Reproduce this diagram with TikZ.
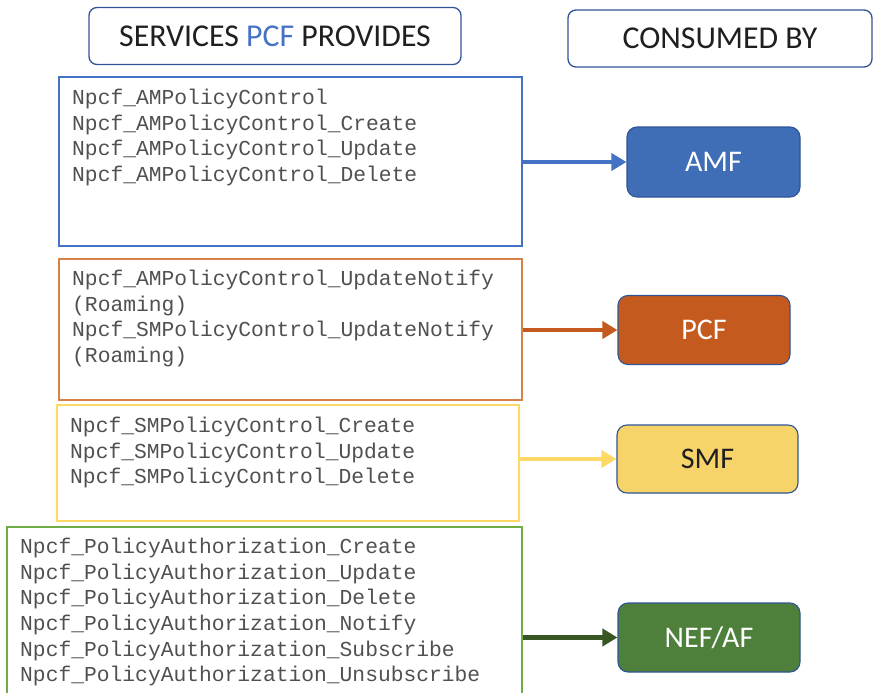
\documentclass[tikz,border=0pt]{standalone}
\usepackage{fontspec}
\setmainfont{Carlito}
\newfontfamily\codefont{Liberation Mono}
\usetikzlibrary{arrows.meta}

\definecolor{hdrblue}{HTML}{2F5597}
\definecolor{pcfblue}{HTML}{4472C4}
\definecolor{amfblue}{HTML}{3F6DB6}
\definecolor{pcforange}{HTML}{C55A1E}
\definecolor{boxorange}{HTML}{D9814A}
\definecolor{smfyellow}{HTML}{F7D46A}
\definecolor{boxyellow}{HTML}{FFD966}
\definecolor{nefgreen}{HTML}{4E7F3B}
\definecolor{boxgreen}{HTML}{70AD47}
\definecolor{arrgreen}{HTML}{375623}
\definecolor{codegray}{HTML}{505050}

\tikzset{
    header/.style={draw=hdrblue, line width=1.3pt, rounded corners=8pt,
        font=\fontsize{31.8}{36}\selectfont, text=black!88},
    svcbox/.style={draw=#1, line width=1.2pt, inner sep=0pt},
    svctext/.style={anchor=north west, inner sep=0pt, align=left,
        font=\codefont\fontsize{21.3}{25.6}\selectfont, text=codegray},
    nfbox/.style={draw=hdrblue, line width=1.1pt, fill=#1, rounded corners=10pt,
        font=\fontsize{30}{34}\selectfont, text=white},
    flow/.style={line width=4.5pt, draw=#1, -{Triangle[length=15pt, width=17pt]}}
}

\begin{document}
\begin{tikzpicture}[x=1pt, y=-1pt]
    \useasboundingbox (0, 0) rectangle (873, 693);

    \node[header, minimum width=372pt, minimum height=57pt] (provides) at (275, 36)
        {SERVICES \textcolor{pcfblue}{PCF} PROVIDES};
    \node[header, minimum width=304pt, minimum height=57pt] (consumed) at (720, 38.5)
        {CONSUMED BY};

    \node[svcbox=pcfblue, minimum width=463pt, minimum height=169pt] (amBox) at (290.5, 161.5) {};
    \node[svcbox=boxorange, minimum width=463pt, minimum height=141pt] (roamBox) at (290.5, 329.5) {};
    \node[svcbox=boxyellow, minimum width=462pt, minimum height=116pt] (smBox) at (288, 463) {};
    \node[svcbox=boxgreen, minimum width=515pt, minimum height=176pt] (paBox) at (264.5, 615) {};

    \node[svctext] (amText) at (72, 89)
        {Npcf\_AMPolicyControl\\Npcf\_AMPolicyControl\_Create\\Npcf\_AMPolicyControl\_Update\\Npcf\_AMPolicyControl\_Delete};
    \node[svctext] (roamText) at (72, 270)
        {Npcf\_AMPolicyControl\_UpdateNotify\\(Roaming)\\Npcf\_SMPolicyControl\_UpdateNotify\\(Roaming)};
    \node[svctext] (smText) at (70, 417)
        {Npcf\_SMPolicyControl\_Create\\Npcf\_SMPolicyControl\_Update\\Npcf\_SMPolicyControl\_Delete};
    \node[svctext] (paText) at (20, 538)
        {Npcf\_PolicyAuthorization\_Create\\Npcf\_PolicyAuthorization\_Update\\Npcf\_PolicyAuthorization\_Delete\\Npcf\_PolicyAuthorization\_Notify\\Npcf\_PolicyAuthorization\_Subscribe\\Npcf\_PolicyAuthorization\_Unsubscribe};

    \node[nfbox=amfblue, minimum width=173pt, minimum height=70pt] (amf) at (713.5, 162) {AMF};
    \node[nfbox=pcforange, minimum width=172pt, minimum height=69pt] (pcf) at (704, 330) {PCF};
    \node[nfbox=smfyellow, text=black!88, minimum width=181pt, minimum height=68pt] (smf) at (707.5, 459) {SMF};
    \node[nfbox=nefgreen, minimum width=182pt, minimum height=69pt] (nef) at (709, 637.5) {NEF/AF};

    \draw[flow=pcfblue] (amBox.east |- amf.west) -- (amf.west);
    \draw[flow=pcforange] (roamBox.east |- pcf.west) -- (pcf.west);
    \draw[flow=boxyellow] (smBox.east |- smf.west) -- (smf.west);
    \draw[flow=arrgreen] (paBox.east |- nef.west) -- (nef.west);
\end{tikzpicture}
\end{document}
